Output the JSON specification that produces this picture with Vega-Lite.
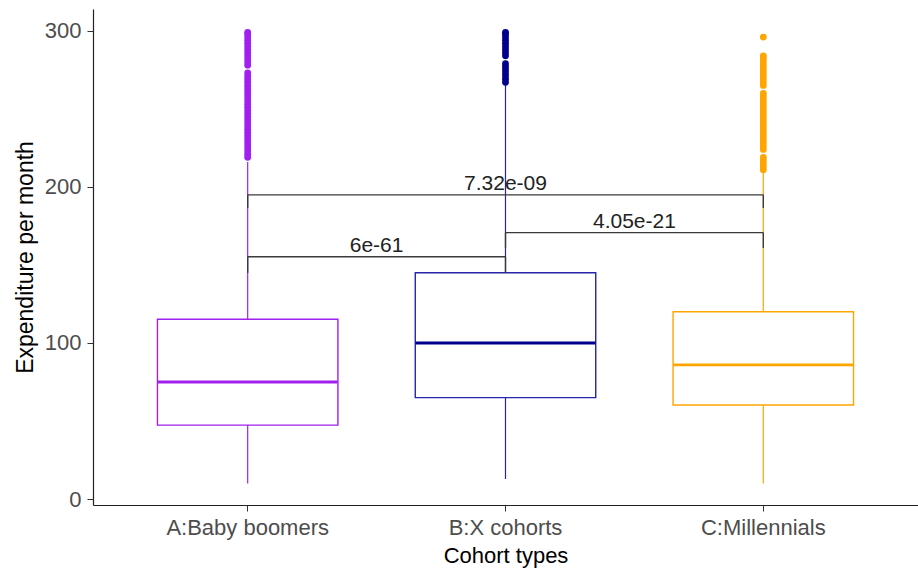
{
  "$schema": "https://vega.github.io/schema/vega-lite/v6.json",
  "autosize": {"type": "none"},
  "width": 825,
  "height": 496,
  "padding": {"left": 93, "top": 9, "right": 0, "bottom": 68},
  "background": "white",
  "config": {
    "view": {"stroke": null},
    "font": "Liberation Sans",
    "axis": {
      "labelFont": "Liberation Sans",
      "titleFont": "Liberation Sans",
      "labelFontSize": 22,
      "titleFontSize": 22,
      "labelColor": "#4D4D4D",
      "titleColor": "#000000",
      "titleFontWeight": "normal",
      "domainColor": "#222222",
      "domainWidth": 1.2,
      "tickColor": "#333333",
      "tickSize": 6,
      "grid": false
    }
  },
  "datasets": {
    "boxes": [
      {"group": "A:Baby boomers", "lower": 10, "q1": 47.4, "median": 75, "q3": 115.2, "upper": 216},
      {"group": "B:X cohorts", "lower": 12.8, "q1": 65, "median": 100, "q3": 145, "upper": 266},
      {"group": "C:Millennials", "lower": 10, "q1": 60.3, "median": 86, "q3": 120, "upper": 210}
    ],
    "outliers": [
      {"group": "A:Baby boomers", "value": 219}, {"group": "A:Baby boomers", "value": 221}, {"group": "A:Baby boomers", "value": 223},
      {"group": "A:Baby boomers", "value": 225}, {"group": "A:Baby boomers", "value": 227}, {"group": "A:Baby boomers", "value": 229},
      {"group": "A:Baby boomers", "value": 231}, {"group": "A:Baby boomers", "value": 233}, {"group": "A:Baby boomers", "value": 235},
      {"group": "A:Baby boomers", "value": 237}, {"group": "A:Baby boomers", "value": 239}, {"group": "A:Baby boomers", "value": 241},
      {"group": "A:Baby boomers", "value": 243}, {"group": "A:Baby boomers", "value": 245}, {"group": "A:Baby boomers", "value": 247},
      {"group": "A:Baby boomers", "value": 249}, {"group": "A:Baby boomers", "value": 251}, {"group": "A:Baby boomers", "value": 253},
      {"group": "A:Baby boomers", "value": 255}, {"group": "A:Baby boomers", "value": 257}, {"group": "A:Baby boomers", "value": 259},
      {"group": "A:Baby boomers", "value": 261}, {"group": "A:Baby boomers", "value": 263}, {"group": "A:Baby boomers", "value": 265},
      {"group": "A:Baby boomers", "value": 267}, {"group": "A:Baby boomers", "value": 269}, {"group": "A:Baby boomers", "value": 271},
      {"group": "A:Baby boomers", "value": 273}, {"group": "A:Baby boomers", "value": 278}, {"group": "A:Baby boomers", "value": 280},
      {"group": "A:Baby boomers", "value": 282}, {"group": "A:Baby boomers", "value": 284}, {"group": "A:Baby boomers", "value": 286},
      {"group": "A:Baby boomers", "value": 288}, {"group": "A:Baby boomers", "value": 290}, {"group": "A:Baby boomers", "value": 292},
      {"group": "A:Baby boomers", "value": 294}, {"group": "A:Baby boomers", "value": 296}, {"group": "A:Baby boomers", "value": 298},
      {"group": "A:Baby boomers", "value": 299},
      {"group": "B:X cohorts", "value": 267}, {"group": "B:X cohorts", "value": 269}, {"group": "B:X cohorts", "value": 271},
      {"group": "B:X cohorts", "value": 273}, {"group": "B:X cohorts", "value": 275}, {"group": "B:X cohorts", "value": 277},
      {"group": "B:X cohorts", "value": 279}, {"group": "B:X cohorts", "value": 284}, {"group": "B:X cohorts", "value": 286},
      {"group": "B:X cohorts", "value": 288}, {"group": "B:X cohorts", "value": 290}, {"group": "B:X cohorts", "value": 292},
      {"group": "B:X cohorts", "value": 294}, {"group": "B:X cohorts", "value": 296}, {"group": "B:X cohorts", "value": 298},
      {"group": "B:X cohorts", "value": 299},
      {"group": "C:Millennials", "value": 211}, {"group": "C:Millennials", "value": 213}, {"group": "C:Millennials", "value": 215},
      {"group": "C:Millennials", "value": 217}, {"group": "C:Millennials", "value": 219}, {"group": "C:Millennials", "value": 224},
      {"group": "C:Millennials", "value": 226}, {"group": "C:Millennials", "value": 228}, {"group": "C:Millennials", "value": 230},
      {"group": "C:Millennials", "value": 232}, {"group": "C:Millennials", "value": 234}, {"group": "C:Millennials", "value": 236},
      {"group": "C:Millennials", "value": 238}, {"group": "C:Millennials", "value": 240}, {"group": "C:Millennials", "value": 242},
      {"group": "C:Millennials", "value": 244}, {"group": "C:Millennials", "value": 246}, {"group": "C:Millennials", "value": 248},
      {"group": "C:Millennials", "value": 250}, {"group": "C:Millennials", "value": 252}, {"group": "C:Millennials", "value": 254},
      {"group": "C:Millennials", "value": 256}, {"group": "C:Millennials", "value": 258}, {"group": "C:Millennials", "value": 260},
      {"group": "C:Millennials", "value": 265}, {"group": "C:Millennials", "value": 267}, {"group": "C:Millennials", "value": 269},
      {"group": "C:Millennials", "value": 271}, {"group": "C:Millennials", "value": 273}, {"group": "C:Millennials", "value": 275},
      {"group": "C:Millennials", "value": 277}, {"group": "C:Millennials", "value": 279}, {"group": "C:Millennials", "value": 281},
      {"group": "C:Millennials", "value": 283}, {"group": "C:Millennials", "value": 284}, {"group": "C:Millennials", "value": 296}
    ],
    "brackets": [
      {"from": 1, "to": 3, "mid": 2, "y": 194.9, "tip": 186.5, "label": "7.32e-09"},
      {"from": 2, "to": 3, "mid": 2.5, "y": 170.7, "tip": 160.9, "label": "4.05e-21"},
      {"from": 1, "to": 2, "mid": 1.5, "y": 155.3, "tip": 144.9, "label": "6e-61"}
    ]
  },
  "resolve": {"scale": {"x": "independent"}},
  "layer": [
    {
      "layer": [
        {
          "data": {"name": "boxes"},
          "mark": {"type": "rule", "strokeWidth": 1.2},
          "encoding": {
            "x": {
              "field": "group", "type": "nominal",
              "scale": {"paddingInner": 0.3, "paddingOuter": 0.25},
              "axis": {"title": "Cohort types", "labelAngle": 0, "labelPadding": 6, "titlePadding": 7, "domain": true, "ticks": true}
            },
            "y": {
              "field": "lower", "type": "quantitative",
              "scale": {"domain": [-3.8, 314], "nice": false, "zero": false},
              "axis": {"title": "Expenditure per month", "titleFontSize": 23, "values": [0, 100, 200, 300], "labelPadding": 6, "titlePadding": 7}
            },
            "y2": {"field": "upper"},
            "color": {
              "field": "group", "type": "nominal",
              "scale": {"domain": ["A:Baby boomers", "B:X cohorts", "C:Millennials"], "range": ["#A020F0", "#2626A8", "#FFA500"]},
              "legend": null
            }
          }
        },
        {
          "data": {"name": "boxes"},
          "mark": {"type": "bar", "fill": "white", "strokeWidth": 1.4},
          "encoding": {
            "x": {"field": "group", "type": "nominal"},
            "y": {"field": "q1", "type": "quantitative"},
            "y2": {"field": "q3"},
            "stroke": {
              "field": "group", "type": "nominal",
              "scale": {"domain": ["A:Baby boomers", "B:X cohorts", "C:Millennials"], "range": ["#A020F0", "#2626A8", "#FFA500"]},
              "legend": null
            }
          }
        },
        {
          "data": {"name": "boxes"},
          "mark": {"type": "tick", "size": 180, "thickness": 2.8, "orient": "horizontal", "opacity": 1},
          "encoding": {
            "x": {"field": "group", "type": "nominal"},
            "y": {"field": "median", "type": "quantitative"},
            "fill": {
              "field": "group", "type": "nominal",
              "scale": {"domain": ["A:Baby boomers", "B:X cohorts", "C:Millennials"], "range": ["#A020F0", "#00008B", "#FFA500"]},
              "legend": null
            }
          }
        },
        {
          "data": {"name": "outliers"},
          "mark": {"type": "point", "filled": true, "shape": "circle", "size": 46, "opacity": 1},
          "encoding": {
            "x": {"field": "group", "type": "nominal"},
            "y": {"field": "value", "type": "quantitative"},
            "fill": {"field": "group", "type": "nominal", "legend": null}
          }
        }
      ]
    },
    {
      "data": {"name": "brackets"},
      "layer": [
        {
          "mark": {"type": "rule", "color": "#3A3A3A", "strokeWidth": 1.4},
          "encoding": {
            "x": {"field": "from", "type": "quantitative", "scale": {"domain": [0.4, 3.6], "nice": false, "zero": false}, "axis": null},
            "x2": {"field": "to"},
            "y": {"field": "y", "type": "quantitative"}
          }
        },
        {
          "mark": {"type": "rule", "color": "#3A3A3A", "strokeWidth": 1.4},
          "encoding": {
            "x": {"field": "from", "type": "quantitative"},
            "y": {"field": "tip", "type": "quantitative"},
            "y2": {"field": "y"}
          }
        },
        {
          "mark": {"type": "rule", "color": "#3A3A3A", "strokeWidth": 1.4},
          "encoding": {
            "x": {"field": "to", "type": "quantitative"},
            "y": {"field": "tip", "type": "quantitative"},
            "y2": {"field": "y"}
          }
        },
        {
          "mark": {"type": "text", "fontSize": 21, "font": "Liberation Sans", "color": "#222222", "baseline": "alphabetic", "dy": -5},
          "encoding": {
            "x": {"field": "mid", "type": "quantitative"},
            "y": {"field": "y", "type": "quantitative"},
            "text": {"field": "label"}
          }
        }
      ]
    }
  ]
}
